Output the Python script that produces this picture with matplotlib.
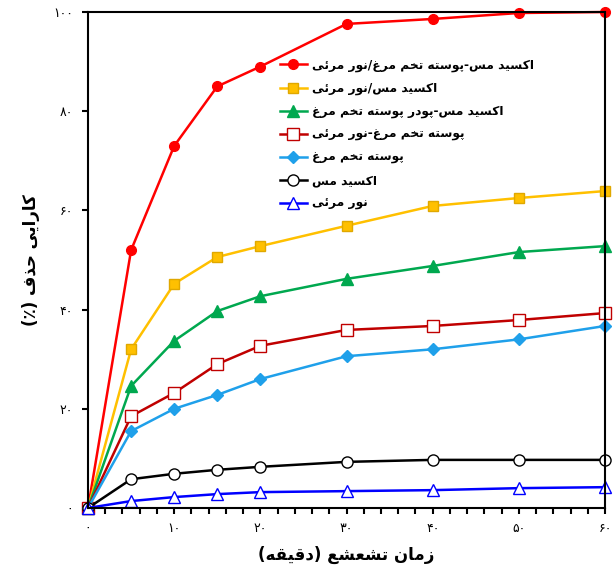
import matplotlib
matplotlib.use('Agg')
import matplotlib.pyplot as plt
from matplotlib.ticker import MultipleLocator

# simple Persian shaping: (isolated, final, initial, medial)
forms = {
    'ا': ('\uFE8D', '\uFE8E'), 'د': ('\uFEA9', '\uFEAA'), 'ذ': ('\uFEAB', '\uFEAC'),
    'ر': ('\uFEAD', '\uFEAE'), 'ز': ('\uFEAF', '\uFEB0'), 'و': ('\uFEED', '\uFEEE'),
    'ک': ('\uFB8E', '\uFB8F', '\uFB90', '\uFB91'), 'س': ('\uFEB1', '\uFEB2', '\uFEB3', '\uFEB4'),
    'ی': ('\uFBFC', '\uFBFD', '\uFBFE', '\uFBFF'), 'م': ('\uFEE1', '\uFEE2', '\uFEE3', '\uFEE4'),
    'پ': ('\uFB56', '\uFB57', '\uFB58', '\uFB59'), 'ت': ('\uFE95', '\uFE96', '\uFE97', '\uFE98'),
    'خ': ('\uFEA5', '\uFEA6', '\uFEA7', '\uFEA8'), 'غ': ('\uFECD', '\uFECE', '\uFECF', '\uFED0'),
    'ن': ('\uFEE5', '\uFEE6', '\uFEE7', '\uFEE8'), 'ئ': ('\uFE89', '\uFE8A', '\uFE8B', '\uFE8C'),
    'ش': ('\uFEB5', '\uFEB6', '\uFEB7', '\uFEB8'), 'ع': ('\uFEC9', '\uFECA', '\uFECB', '\uFECC'),
    'ق': ('\uFED5', '\uFED6', '\uFED7', '\uFED8'), 'ه': ('\uFEE9', '\uFEEA', '\uFEEB', '\uFEEC'),
    'ح': ('\uFEA1', '\uFEA2', '\uFEA3', '\uFEA4'), 'ف': ('\uFED1', '\uFED2', '\uFED3', '\uFED4'),
}


def fa(s):
    out = []
    for i, c in enumerate(s):
        if c not in forms:
            out.append(c)
            continue
        f = forms[c]
        prev = i > 0 and s[i - 1] in forms and len(forms[s[i - 1]]) == 4
        nxt = len(f) == 4 and i + 1 < len(s) and s[i + 1] in forms
        if prev and nxt:
            out.append(f[3])
        elif prev:
            out.append(f[1])
        elif nxt:
            out.append(f[2])
        else:
            out.append(f[0])
    r = ''.join(out)[::-1]
    return r.translate(str.maketrans('()', ')('))


def fa_num(v):
    return str(int(v)).translate(str.maketrans('0123456789', '۰۱۲۳۴۵۶۷۸۹'))


time = [0, 5, 10, 15, 20, 30, 40, 50, 60]
cuo_egg_vis = [0, 52, 73, 85, 89, 97.6, 98.6, 99.8, 100]
cuo_vis = [0, 32, 45.2, 50.6, 52.8, 56.9, 60.9, 62.5, 63.9]
cuo_egg_powder = [0, 24.6, 33.7, 39.7, 42.7, 46.2, 48.8, 51.6, 52.8]
egg_vis = [0, 18.5, 23.2, 29, 32.7, 35.9, 36.7, 37.9, 39.3]
egg = [0, 15.5, 20, 22.8, 26, 30.6, 32, 34, 36.7]
cuo = [0, 5.8, 6.9, 7.7, 8.3, 9.3, 9.7, 9.7, 9.7]
vis = [0, 1.4, 2.2, 2.8, 3.2, 3.4, 3.6, 4, 4.2]

labels = ['اکسید مس-پوسته تخم مرغ/نور مرئی', 'اکسید مس/نور مرئی',
          'اکسید مس-پودر پوسته تخم مرغ', 'پوسته تخم مرغ-نور مرئی',
          'پوسته تخم مرغ', 'اکسید مس', 'نور مرئی']

plt.rcParams['font.family'] = ['DejaVu Sans']

fig = plt.figure(figsize=(6.16, 5.72), dpi=100)
ax = fig.add_axes([0.1429, 0.1119, 0.8393, 0.8671])

ax.plot(time, cuo_egg_vis, '-o', color='#FF0000', lw=1.8, ms=7, label=fa(labels[0]))
ax.plot(time, cuo_vis, '-s', color='#FFC000', mec='#E0A800', lw=1.8, ms=7, label=fa(labels[1]))
ax.plot(time, cuo_egg_powder, '-^', color='#00A84F', lw=1.8, ms=8, label=fa(labels[2]))
ax.plot(time, egg_vis, '-s', color='#C00000', mfc='white', mec='#C00000', lw=1.8, ms=8, label=fa(labels[3]))
ax.plot(time, egg, '-D', color='#1FA0EA', lw=1.8, ms=6, label=fa(labels[4]))
ax.plot(time, cuo, '-o', color='black', mfc='white', lw=1.8, ms=8, label=fa(labels[5]))
ax.plot(time, vis, '-^', color='#0000FF', mfc='white', lw=1.8, ms=8, label=fa(labels[6]))

ax.set_xlim(0, 60)
ax.set_ylim(0, 100)
ax.xaxis.set_minor_locator(MultipleLocator(2))
ax.set_xticks(range(0, 61, 10))
ax.set_xticklabels([fa_num(v) for v in range(0, 61, 10)])
ax.set_yticks(range(0, 101, 20))
ax.set_yticklabels([fa_num(v) for v in range(0, 101, 20)])
ax.tick_params(axis='both', which='major', labelsize=9, length=4, width=1.5, direction='out')
ax.tick_params(axis='x', which='minor', length=4, width=1.5, direction='out')
ax.tick_params(axis='x', pad=6)
ax.tick_params(axis='y', pad=7)
for sp in ax.spines.values():
    sp.set_linewidth(1.5)
for m in ax.lines:
    m.set_clip_on(False)

ax.set_xlabel(fa('زمان تشعشع (دقیقه)'), fontsize=12, fontweight='bold', labelpad=8)
ax.set_ylabel(fa('کارایی حذف (٪)'), fontsize=12, fontweight='bold', labelpad=9)

ax.legend(loc='upper left', bbox_to_anchor=(0.35, 0.928), frameon=False,
          prop={'size': 8.8, 'weight': 'bold'}, handlelength=2.2,
          labelspacing=0.8, handletextpad=0.4)

fig.savefig('out.png', dpi=100)
